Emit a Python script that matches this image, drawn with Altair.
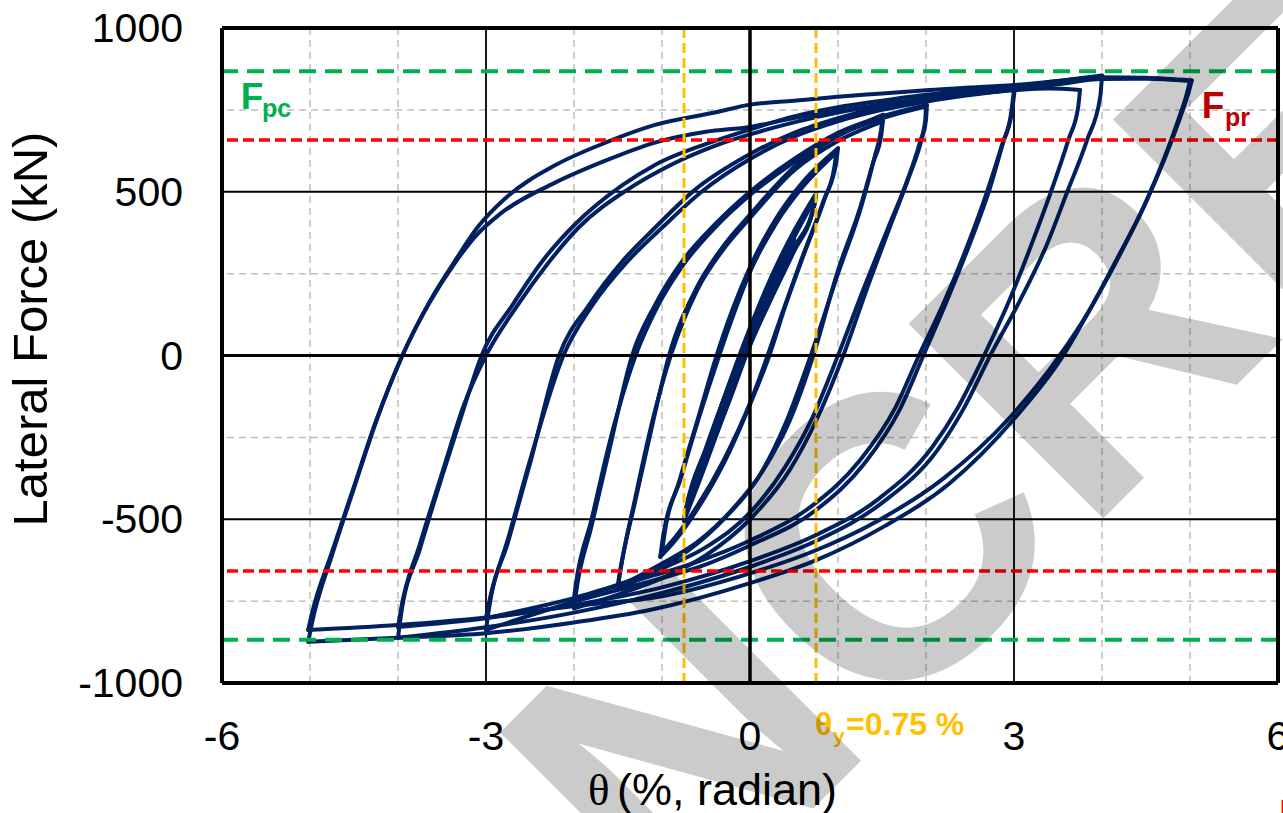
import altair as alt
import pandas as pd

# ---------------- hysteresis branches: drift (%), lateral force (kN) ----------------
# upper branches (negative peak -> positive peak)
U5A_X = [-5.02, -4.98, -4.75, -4.5, -4.25, -3.95, -3.65, -3.35, -3.1, -2.78, -2.22, -1.65, -1.08, -0.40, 0.0, 0.5, 1.0, 1.5, 2.0, 2.5, 3.0, 3.5, 4.0, 4.5, 5.02]
U5A_F = [-838, -790, -600, -400, -200, 0, 160, 290, 390, 480, 580, 649, 704, 742, 766, 778, 790, 800, 810, 818, 826, 838, 850, 848, 840]
U5B_X = [-5.02, -4.98, -4.75, -4.5, -4.25, -3.95, -3.65, -3.35, -3.1, -2.85, -2.22, -1.65, -1.08, -0.5, 0.0, 0.5, 1.0, 1.5, 2.0, 2.5, 3.0, 3.5, 4.0, 4.5, 5.0]
U5B_F = [-874, -820, -610, -405, -203, 0, 158, 284, 370, 430, 527, 594, 650, 683, 698, 725, 748, 767, 785, 798, 812, 828, 844, 845, 838]
U4A_X = [-4.0, -3.97, -3.75, -3.5, -3.25, -3.05, -2.70, -2.36, -1.99, -1.45, -1.08, -0.40, 0.0, 0.5, 1.0, 1.5, 2.0, 2.5, 3.0, 3.5, 4.0]
U4A_F = [-862, -800, -590, -370, -160, 0, 154, 288, 400, 520, 582, 655, 690, 730, 758, 778, 796, 810, 822, 838, 855]
U4B_X = [-4.0, -3.97, -3.75, -3.5, -3.25, -3.0, -2.65, -2.3, -1.95, -1.4, -1.0, -0.4, 0.0, 0.5, 1.0, 1.5, 2.0, 2.5, 3.0, 3.4, 3.75]
U4B_F = [-829, -780, -575, -360, -150, 0, 150, 280, 390, 505, 568, 640, 675, 712, 742, 765, 784, 798, 810, 815, 811]
U3A_X = [-3.0, -2.97, -2.75, -2.5, -2.17, -1.83, -1.45, -1.08, -0.63, 0.0, 0.5, 1.0, 1.5, 2.0, 2.5, 3.01]
U3A_F = [-838, -780, -570, -330, 0, 154, 288, 390, 505, 615, 680, 725, 760, 785, 803, 818]
U3B_X = [-3.0, -2.97, -2.75, -2.5, -2.12, -1.8, -1.4, -1.0, -0.55, 0.0, 0.5, 1.0, 1.5, 2.0, 2.5, 3.0]
U3B_F = [-802, -760, -560, -320, 0, 150, 285, 390, 500, 600, 668, 715, 750, 775, 795, 812]
U2A_X = [-2.0, -1.98, -1.8, -1.6, -1.34, -1.08, -0.77, -0.4, 0.0, 0.5, 1.0, 1.5, 2.01]
U2A_F = [-772, -730, -520, -290, 0, 154, 288, 400, 500, 600, 680, 730, 765]
U2B_X = [-2.0, -1.98, -1.8, -1.6, -1.3, -1.05, -0.75, -0.4, 0.0, 0.5, 1.0, 1.5, 2.0]
U2B_F = [-741, -700, -500, -270, 0, 150, 280, 390, 490, 590, 672, 724, 760]
U15A_X = [-1.51, -1.49, -1.3, -1.1, -0.92, -0.6, -0.3, 0.0, 0.5, 1.0, 1.51]
U15A_F = [-716, -680, -440, -200, 0, 210, 335, 430, 575, 670, 735]
U15B_X = [-1.5, -1.48, -1.3, -1.1, -0.9, -0.6, -0.3, 0.0, 0.5, 1.0, 1.51]
U15B_F = [-706, -670, -430, -190, 0, 200, 325, 420, 565, 655, 715]
U1A_X = [-1.02, -1.0, -0.8, -0.6, -0.38, -0.2, 0.0, 0.3, 0.6, 1.0]
U1A_F = [-615, -575, -380, -200, 0, 140, 270, 420, 530, 633]
U1B_X = [-1.0, -0.98, -0.78, -0.58, -0.35, -0.18, 0.0, 0.3, 0.6, 0.98]
U1B_F = [-600, -560, -370, -190, 0, 130, 255, 405, 515, 620]
S075U_X = [-0.75, -0.73, -0.5, -0.25, 0.0, 0.25, 0.5, 0.75]
S075U_F = [-505, -478, -290, -95, 85, 245, 380, 495]
S075V_X = [-0.74, -0.72, -0.5, -0.25, 0.0, 0.25, 0.5, 0.74]
S075V_F = [-490, -462, -282, -100, 65, 225, 360, 480]
S075X_X = [-0.75, -0.73, -0.5, -0.25, 0.0, 0.25, 0.5, 0.75]
S075X_F = [-498, -470, -286, -98, 75, 235, 370, 488]
S05U_X = [-0.5, -0.25, 0.0, 0.25, 0.5]
S05U_F = [-300, -105, 70, 225, 355]
S05V_X = [-0.5, -0.25, 0.0, 0.25, 0.5]
S05V_F = [-300, -118, 58, 214, 355]
S0375U_X = [-0.375, -0.2, 0.0, 0.2, 0.375]
S0375U_F = [-205, -70, 65, 190, 295]

# lower branches (positive peak -> negative peak)
L5A_X = [5.02, 4.98, 4.89, 4.51, 4.17, 3.86, 3.56, 2.99, 2.27, 1.51, 0.76, 0.0, -1.14, -2.0, -3.0, -4.0, -5.02]
L5A_F = [840, 800, 728, 474, 291, 139, 0, -197, -390, -524, -624, -695, -777, -815, -848, -862, -874]
L5B_X = [5.0, 4.96, 4.87, 4.5, 4.15, 3.85, 3.52, 2.95, 2.2, 1.45, 0.7, 0.0, -1.0, -2.0, -3.0, -4.0, -5.02]
L5B_F = [838, 795, 722, 470, 285, 135, 0, -190, -375, -505, -600, -665, -735, -765, -800, -823, -838]
L4A_X = [4.0, 3.98, 3.83, 3.6, 3.38, 3.07, 2.73, 2.42, 2.13, 1.5, 0.76, 0.0, -1.0, -2.0, -3.0, -4.0]
L4A_F = [855, 790, 658, 496, 343, 169, 0, -166, -289, -450, -565, -645, -725, -785, -830, -862]
L4B_X = [3.75, 3.73, 3.62, 3.42, 3.2, 2.95, 2.66, 2.36, 2.07, 1.45, 0.72, 0.0, -1.0, -2.0, -3.0, -4.0]
L4B_F = [811, 760, 660, 500, 340, 170, 0, -160, -280, -440, -552, -628, -708, -762, -802, -829]
L3A_X = [3.01, 2.98, 2.875, 2.73, 2.5, 2.24, 1.97, 1.70, 1.3, 0.76, 0.0, -0.57, -1.14, -2.0, -3.0]
L3A_F = [818, 750, 649, 514, 343, 169, 0, -166, -330, -470, -580, -645, -690, -752, -838]
L3B_X = [3.0, 2.97, 2.86, 2.7, 2.47, 2.2, 1.92, 1.65, 1.25, 0.7, 0.0, -0.6, -1.2, -2.0, -3.0]
L3B_F = [812, 745, 640, 505, 335, 160, 0, -160, -320, -460, -565, -630, -680, -741, -802]
L2A_X = [2.01, 2.0, 1.95, 1.8, 1.6, 1.35, 1.06, 0.75, 0.45, 0.0, -0.5, -1.0, -1.5, -2.0]
L2A_F = [765, 720, 660, 540, 400, 220, 0, -200, -350, -500, -610, -680, -730, -772]
L2B_X = [2.0, 1.99, 1.93, 1.78, 1.57, 1.3, 1.0, 0.7, 0.4, 0.0, -0.5, -1.0, -1.5, -2.0]
L2B_F = [760, 715, 650, 530, 390, 210, 0, -195, -340, -480, -585, -650, -700, -741]
L15A_X = [1.51, 1.49, 1.42, 1.27, 1.0, 0.69, 0.4, 0.1, -0.3, -0.7, -1.1, -1.51]
L15A_F = [735, 690, 610, 460, 250, 0, -210, -370, -500, -595, -660, -716]
L15B_X = [1.51, 1.49, 1.4, 1.25, 1.0, 0.72, 0.45, 0.15, -0.2, -0.6, -1.0, -1.5]
L15B_F = [715, 670, 590, 450, 260, 0, -200, -350, -470, -570, -635, -706]
L1A_X = [1.0, 0.98, 0.85, 0.6, 0.4, 0.22, 0.0, -0.3, -0.6, -0.85, -1.02]
L1A_F = [633, 590, 480, 300, 150, 0, -150, -330, -470, -565, -615]
L1B_X = [0.98, 0.96, 0.83, 0.58, 0.38, 0.2, 0.0, -0.3, -0.6, -0.85, -1.0]
L1B_F = [620, 578, 468, 290, 140, 0, -145, -320, -460, -555, -600]
S075D_X = [0.75, 0.73, 0.5, 0.25, 0.0, -0.25, -0.5, -0.75]
S075D_F = [495, 462, 325, 185, 35, -145, -330, -505]
S075W_X = [0.74, 0.72, 0.5, 0.25, 0.0, -0.25, -0.5, -0.74]
S075W_F = [480, 450, 318, 178, 30, -150, -320, -490]
S075Y_X = [0.75, 0.73, 0.5, 0.25, 0.0, -0.25, -0.5, -0.75]
S075Y_F = [488, 456, 330, 195, 50, -128, -310, -498]
S05D_X = [0.5, 0.25, 0.0, -0.25, -0.5]
S05D_F = [355, 200, 45, -130, -300]
S0375D_X = [0.375, 0.2, 0.0, -0.2, -0.375]
S0375D_F = [295, 170, 45, -85, -205]

BRANCHES = [
    ("S0375U", S0375U_X, S0375U_F), ("S0375D", S0375D_X, S0375D_F),
    ("S05U", S05U_X, S05U_F), ("S05D", S05D_X, S05D_F), ("S05V", S05V_X, S05V_F),
    ("S075U", S075U_X, S075U_F), ("S075D", S075D_X, S075D_F),
    ("S075V", S075V_X, S075V_F), ("S075W", S075W_X, S075W_F),
    ("S075X", S075X_X, S075X_F), ("S075Y", S075Y_X, S075Y_F),
    ("U1A", U1A_X, U1A_F), ("L1A", L1A_X, L1A_F),
    ("U1B", U1B_X, U1B_F), ("L1B", L1B_X, L1B_F),
    ("U15A", U15A_X, U15A_F), ("L15A", L15A_X, L15A_F),
    ("U15B", U15B_X, U15B_F), ("L15B", L15B_X, L15B_F),
    ("U2A", U2A_X, U2A_F), ("L2A", L2A_X, L2A_F),
    ("U2B", U2B_X, U2B_F), ("L2B", L2B_X, L2B_F),
    ("U3A", U3A_X, U3A_F), ("L3A", L3A_X, L3A_F),
    ("U3B", U3B_X, U3B_F), ("L3B", L3B_X, L3B_F),
    ("U4A", U4A_X, U4A_F), ("L4A", L4A_X, L4A_F),
    ("U4B", U4B_X, U4B_F), ("L4B", L4B_X, L4B_F),
    ("U5A", U5A_X, U5A_F), ("L5A", L5A_X, L5A_F),
    ("U5B", U5B_X, U5B_F), ("L5B", L5B_X, L5B_F),
]

# ---------------- axes, grid, reference values ----------------
X_DOMAIN = [-6, 6]
Y_DOMAIN = [-1000, 1000]
X_TICKS = [-6, -3, 0, 3, 6]
Y_TICKS = [-1000, -500, 0, 500, 1000]
X_MINOR = [-5, -4, -2, -1, 1, 2, 4, 5]
Y_MINOR = [-750, -250, 250, 750]
X_MAJOR = [-3, 3]
Y_MAJOR = [-500, 500]
F_PC = [868, -868]
F_PR = [658, -658]
THETA_Y = [0.75, -0.75]

rows = []
for name, xs_, fs_ in BRANCHES:
    for i, (xv, fv) in enumerate(zip(xs_, fs_)):
        rows.append({"seg": name, "i": i, "drift": xv, "force": fv})
hyst_df = pd.DataFrame(rows)

W, H = 1056, 655
NAVY = "#002060"
FONT = "Liberation Sans"

xs = alt.Scale(domain=X_DOMAIN, nice=False, zero=False)
ys = alt.Scale(domain=Y_DOMAIN, nice=False, zero=False)


def vrules(vals, **kw):
    return alt.Chart(pd.DataFrame({"v": vals})).mark_rule(**kw).encode(
        x=alt.X("v:Q", scale=xs, axis=None))


def hrules(vals, **kw):
    return alt.Chart(pd.DataFrame({"v": vals})).mark_rule(**kw).encode(
        y=alt.Y("v:Q", scale=ys, axis=None))


minor_x = vrules(X_MINOR, color="#BFBFBF", strokeWidth=1.5, strokeDash=[7, 5])
minor_y = hrules(Y_MINOR, color="#BFBFBF", strokeWidth=1.5, strokeDash=[7, 5])
major_x = vrules(X_MAJOR, color="black", strokeWidth=1.8)
major_y = hrules(Y_MAJOR, color="black", strokeWidth=1.8)

hyst = alt.Chart(hyst_df).mark_line(
    color=NAVY, strokeWidth=4, strokeJoin="round", strokeCap="round",
    interpolate="monotone"
).encode(
    x=alt.X("drift:Q", scale=xs, axis=None),
    y=alt.Y("force:Q", scale=ys, axis=None),
    detail="seg:N",
    order="i:Q",
)

pc_lines = hrules(F_PC, color="#00B050", strokeWidth=4, strokeDash=[17, 9])
pr_lines = hrules(F_PR, color="#FF0000", strokeWidth=3.5, strokeDash=[11, 5])
ty_lines = vrules(THETA_Y, color="#FFC000", strokeWidth=3, strokeDash=[10, 5])

zero_x = vrules([0], color="black", strokeWidth=3.5)
zero_y = hrules([0], color="black", strokeWidth=3)
frame_x = vrules(X_DOMAIN, color="black", strokeWidth=4)
frame_y = hrules(Y_DOMAIN, color="black", strokeWidth=4)

# tick labels
x_labels = alt.Chart(pd.DataFrame({"v": X_TICKS, "t": [str(v) for v in X_TICKS]})).mark_text(
    font="Liberation Sans", fontSize=41, color="black", align="center", baseline="alphabetic"
).encode(x=alt.X("v:Q", scale=xs, axis=None), y=alt.value(722), text="t:N")
y_labels = alt.Chart(pd.DataFrame({"v": Y_TICKS, "t": [str(v) for v in Y_TICKS]})).mark_text(
    font="Liberation Sans", fontSize=41, color="black", align="right", baseline="alphabetic", dy=14
).encode(y=alt.Y("v:Q", scale=ys, axis=None), x=alt.value(-39), text="t:N")


def label(text, x, y, **kw):
    return alt.Chart(pd.DataFrame({"t": [text]})).mark_text(
        align=kw.pop("align", "left"), baseline=kw.pop("baseline", "alphabetic"), **kw
    ).encode(text="t:N", x=alt.value(x), y=alt.value(y))


texts = [
    label("F", 18.7, 81.3, font=FONT, fontSize=37, fontWeight="bold", color="#00B050"),
    label("pc", 40, 89, font=FONT, fontSize=25, fontWeight="bold", color="#00B050"),
    label("F", 979.7, 90.3, font=FONT, fontSize=37, fontWeight="bold", color="#C00000"),
    label("pr", 1003, 98, font=FONT, fontSize=25, fontWeight="bold", color="#C00000"),
    label("θ", 593, 707, font=FONT, fontSize=32, fontWeight="bold", color="#FFC000"),
    label("y", 611, 715, font=FONT, fontSize=21, fontWeight="bold", color="#FFC000"),
    label("=0.75 %", 624, 707, font=FONT, fontSize=32, fontWeight="bold", color="#FFC000"),
    label("θ", 366, 777, font="Liberation Serif", fontSize=45, color="black"),
    label("(%, radian)", 395, 777, font=FONT, fontSize=45, color="black"),
    label("Lateral Force (kN)", -190, 301, font=FONT, fontSize=49, color="black",
          angle=270, align="center", baseline="middle"),
    label("E", 1057, 800, font=FONT, fontSize=40, fontWeight="bold", color="#FF0000"),
]

watermark = label("NCREE", 864, 338, font=FONT, fontSize=400, fontWeight="bold",
                  color="black", opacity=0.2, angle=315, align="center", baseline="middle")

chart = alt.layer(
    minor_x, minor_y, major_x, major_y, hyst,
    pc_lines, pr_lines, ty_lines, zero_x, zero_y, frame_x, frame_y,
    x_labels, y_labels, *texts, watermark,
).properties(
    width=W, height=H,
    padding={"left": 222, "top": 28, "right": 5, "bottom": 130},
    autosize="none",
).configure_view(stroke=None)

chart.save("out.html", embed_options={"renderer": "svg", "actions": False})
